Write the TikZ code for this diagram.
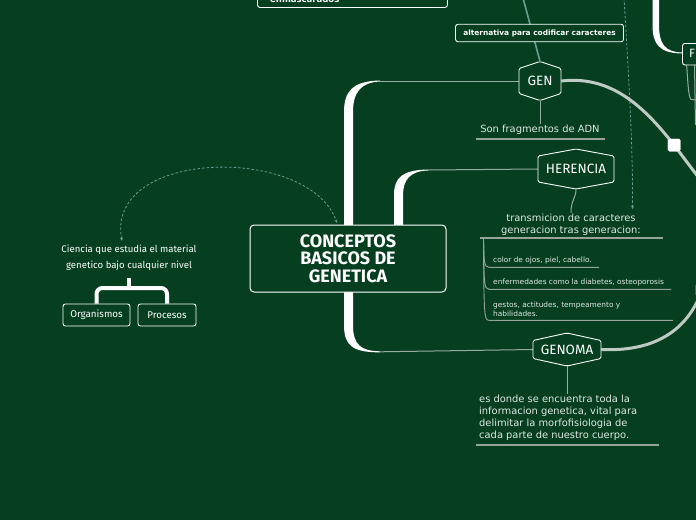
\documentclass[tikz,border=0pt]{standalone}
\usepackage{fontspec}
\setmainfont{DejaVu Sans}
\newfontfamily\handfont{Fira Sans}
\newfontfamily\titlefont{Fira Sans}
\usetikzlibrary{arrows.meta,calc}
\definecolor{bg}{RGB}{5,63,32}
\definecolor{branch}{RGB}{150,172,160}
\definecolor{thickc}{RGB}{192,202,196}
\definecolor{tealc}{RGB}{110,155,150}
\definecolor{ulinec}{RGB}{150,165,155}
\definecolor{softw}{RGB}{225,232,228}
\newcommand\hexb[4]{\draw[hexline] ($(#1)+(0,-#3)$) -- ($(#1)+(#2,-#4)$) -- ($(#1)+(#2,#4)$) -- ($(#1)+(0,#3)$) -- ($(#1)+(-#2,#4)$) -- ($(#1)+(-#2,-#4)$) -- cycle;}
\tikzset{
  branchline/.style={draw=branch, line width=1},
  uline/.style={draw=ulinec, line width=1.6},
  thinuline/.style={draw=ulinec, line width=0.9},
  hexline/.style={draw=white, line width=0.9, rounded corners=1.5},
  hexnode/.style={inner sep=0, text=white, font=\handfont\fontsize{13.5}{14}\selectfont},
  thickcurve/.style={draw=thickc, line width=3},
  tealline/.style={draw=tealc, line width=1.6},
  dashline/.style={draw=tealc, line width=0.8, dash pattern=on 2.5pt off 2pt},
  desc/.style={inner sep=1, text=softw, font=\fontsize{9.9}{12}\selectfont},
  item/.style={inner sep=0, text=softw, anchor=west, font=\fontsize{7.4}{9}\selectfont, align=left},
  labelbox/.style={draw=white, fill=bg, line width=0.9, rounded corners=2.5, text=white, inner sep=0},
  handbox/.style={draw=white, fill=bg, line width=0.9, rounded corners=2.5, text=white, inner sep=0, font=\handfont\fontsize{9.8}{10}\selectfont, minimum height=22},
  bracket/.style={draw=white, line width=4}
}
\begin{document}
\begin{tikzpicture}[x=1pt,y=-1pt]
\useasboundingbox (0,0) rectangle (696,520);
\clip (0,0) rectangle (696,520);
\fill[bg] (0,0) rectangle (696,520);

% top-left cut-off box
\node[labelbox, anchor=north west, minimum width=190, minimum height=20] (enm) at (257,-13) {};
\node[anchor=base west, inner sep=0, text=white, font=\bfseries\fontsize{8.5}{10}\selectfont] (enmt) at (270,2.5) {enmascarados};

% hexagon nodes
\node[hexnode, minimum width=42, minimum height=39] (gen) at (540,81) {GEN};
\node[hexnode, minimum width=76, minimum height=40] (her) at (576,169) {HERENCIA};
\node[hexnode, minimum width=68, minimum height=33] (genoma) at (567,349.5) {GENOMA};

% teal line from GEN up
\coordinate (gtop) at (523,-2);
\draw[tealline] (gen.north) -- (gtop);

% dashed line down to transmicion
\node[desc, align=center] (tra) at (571,224.5) {transmicion de caracteres\\generacion tras generacion:};
\coordinate (dtop) at (624,-2);
\coordinate (dend) at (632.5,209);
\draw[dashline, -{Stealth[length=3.5pt,width=3pt]}] (dtop) .. controls (629,80) and (633,150) .. (dend);

% alternativa box
\node[labelbox, minimum width=168, minimum height=17.5, font=\bfseries\fontsize{7.4}{8}\selectfont] (alt) at (539.5,33) {alternativa para codificar caracteres};

% thick white branch shapes
\fill[white] (344,225) -- (344,112) .. controls (344,92) and (352,81) .. (380,80.5) -- (380,81.5) .. controls (361,82.5) and (353,92) .. (353,112) -- (353,225) -- cycle;
\fill[white] (344,290) -- (344,325) .. controls (344,345) and (352,352.5) .. (380,352.3) -- (380,351.3) .. controls (361,351) and (353,345) .. (353,325) -- (353,290) -- cycle;
\fill[white] (394,226) -- (394,195) .. controls (394,178) and (402,170) .. (428,169.5) -- (428,170.5) .. controls (410,171) and (403,180) .. (403,195) -- (403,226) -- cycle;

% central node
\node[draw=white, fill=bg, line width=1, rounded corners=4, minimum width=196, minimum height=67, inner sep=0, text=white, align=center, font=\titlefont\bfseries\fontsize{18}{17.5}\selectfont] (c) at (348,258.5) {CONCEPTOS\\BASICOS DE\\GENETICA};

% thin branch connectors
\draw[branchline] (380,81) -- (gen.west);
\draw[branchline] (428,170) -- (her.west);
\draw[branchline] (380,351.8) -- (genoma.west);

% hexagon borders
\hexb{gen}{21}{19.5}{12.5}
\hexb{her}{38}{20}{13}
\hexb{genoma}{34}{16.5}{9}

% GEN description
\node[desc] (son) at (540,130) {Son fragmentos de ADN};
\draw[branchline] (gen.south) -- (son.north);
\draw[uline] (476,139) -- (605,139);

% HERENCIA description
\draw[branchline] (her.south) .. controls (576,198) and (571,200) .. (tra.north);
\draw[uline] (480,238) -- (663,238);
\coordinate (tb) at (483.5,239);
\node[item] (i1) at (493,260.5) {color de ojos, piel, cabello.};
\node[item] (i2) at (493,282.5) {enfermedades como la diabetes, osteoporosis};
\node[item] (i3) at (493,309) {gestos, actitudes, tempeamento y\\habilidades.};
\draw[thinuline] (tb) .. controls (484,262) and (484,267) .. (489,267.3) -- (599,267.3);
\draw[thinuline] (tb) .. controls (484,284) and (484,289) .. (489,289.3) -- (671,289.3);
\draw[thinuline] (tb) .. controls (484,315) and (484,320) .. (489,320.3) -- (673,320.3);

% GENOMA description
\node[desc, align=left, anchor=north west] (gd) at (478,394) {es donde se encuentra toda la\\informacion genetica, vital para\\delimitar la morfofisiologia de\\cada parte de nuestro cuerpo.};
\draw[branchline] (genoma.south) -- (genoma.south |- gd.north);
\draw[uline] (476,445) -- (659,445);

% thick grey curves
\node[fill=white, minimum size=12.5, inner sep=0, rounded corners=1.5] (sq) at (674,145) {};
\draw[thickcurve] (gen.east) .. controls (612,75) and (645,108) .. (sq.center);
\coordinate (rc1) at (702,182);
\draw[thickcurve] (sq.center) -- (rc1);
\node[fill=white, minimum size=12.5, inner sep=0, rounded corners=1.5] (sq2) at (702,290) {};
\draw[thickcurve] (genoma.east) .. controls (655,352) and (688,330) .. (sq2.center);
\node[fill=white, minimum size=12.5, inner sep=0, rounded corners=1.5] at (sq) {};
\node[fill=white, minimum size=12.5, inner sep=0, rounded corners=1.5] at (sq2) {};

% top-right partial branch
\fill[white] (652.5,0) -- (652.5,25) .. controls (652.5,45) and (660,53) .. (682,53.5) -- (682,52.5) .. controls (665,52) and (659,44) .. (659,25) -- (659,0) -- cycle;
\node[handbox, anchor=north west, minimum width=40, minimum height=21.5] (fbox) at (682,43) {};
\node[anchor=west, inner sep=0, text=white, font=\handfont\fontsize{12}{12}\selectfont] (ft) at (689,53.5) {F};
\coordinate (fl1) at (697,100);
\draw[branchline] (686.5,64.5) .. controls (688,80) and (688,96) .. (691,99.5) -- (fl1);
\coordinate (fl2) at (695.5,125);
\draw[branchline] (694.5,64.5) -- (fl2);

% left cluster
\node[inner sep=1, text=white, align=center, font=\handfont\fontsize{9.6}{16}\selectfont] (cien) at (129,258) {Ciencia que estudia el material\\genetico bajo cualquier nivel};
\node[handbox, minimum width=67] (org) at (96.5,315) {Organismos};
\node[handbox, minimum width=58] (proc) at (167,315) {Procesos};
\coordinate (bj) at (129,288);
\draw[bracket] (129,278) -- (bj);
\draw[bracket, rounded corners=6] (org.north) |- (bj) -| (proc.north);
\coordinate (ctop) at (337,223);
\coordinate (cend) at (122,241);
\draw[dashline, {Stealth[length=3.5pt,width=3pt]}-{Stealth[length=3.5pt,width=3pt]}] (cend) .. controls (105,148) and (310,145) .. (ctop);
\end{tikzpicture}
\end{document}
